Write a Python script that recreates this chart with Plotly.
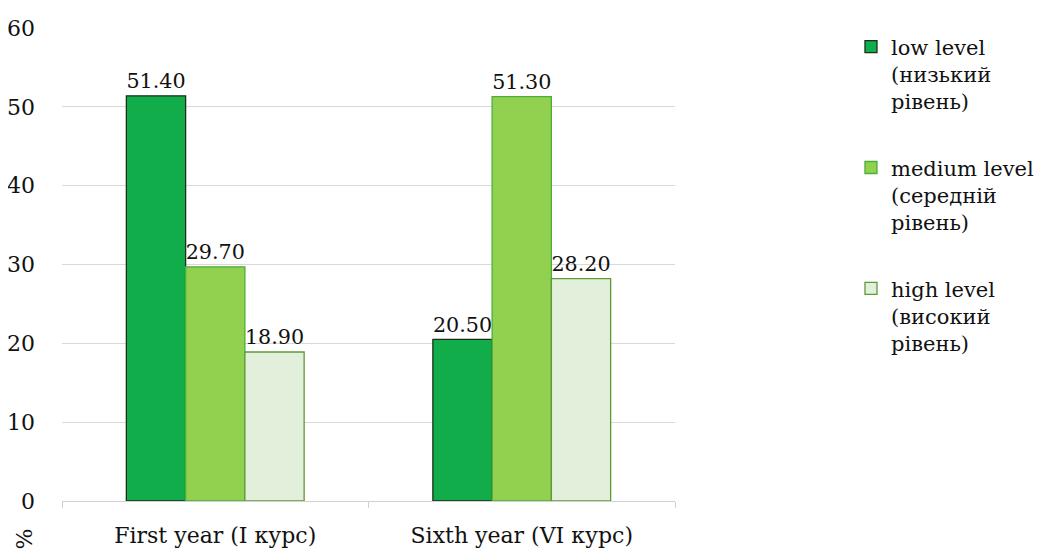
import plotly.graph_objects as go

categories = ["First year (I курс)", "Sixth year (VI курс)"]
series_names = ["low level<br>(низький<br>рівень)",
                "medium level<br>(середній<br>рівень)",
                "high level<br>(високий<br>рівень)"]
low_vals = [51.40, 20.50]
medium_vals = [29.70, 51.30]
high_vals = [18.90, 28.20]
y_ticks = [0, 10, 20, 30, 40, 50, 60]

fills = ["#11ad4b", "#92d050", "#e2efda"]
edges = ["#1c2e1c", "#4cae3a", "#5e9a3a"]

FONT = "DejaVu Serif"
FS = 22
fig = go.Figure()
for i, vals in enumerate([low_vals, medium_vals, high_vals]):
    fig.add_trace(go.Bar(
        x=categories, y=vals, name=series_names[i],
        marker=dict(color=fills[i], line=dict(color=edges[i], width=1.3)),
        text=[f"{v:.2f}" for v in vals], textposition="outside",
        textfont=dict(family=FONT, size=FS, color="#111111"),
        cliponaxis=False, legendgroup=f"g{i}",
    ))

fig.update_layout(
    width=1037, height=542,
    margin=dict(l=54, r=370, t=20, b=49, autoexpand=False),
    paper_bgcolor="white", plot_bgcolor="white",
    barmode="group", bargap=0.42, bargroupgap=0,
    font=dict(family=FONT, size=FS, color="#111111"),
    showlegend=True,
    legend=dict(xref="container", yref="container",
                x=0.8129, y=0.966, xanchor="left", yanchor="top",
                valign="top", maxheight=1,
                font=dict(family=FONT, size=21, color="#111111"),
                tracegroupgap=36, itemwidth=30, traceorder="grouped"),
    xaxis=dict(showline=True, linecolor="#d0d0d0", linewidth=1,
               ticks="outside", tickson="boundaries", ticklen=6,
               tickcolor="#d0d0d0", ticklabelstandoff=15,
               automargin=False,
               tickfont=dict(family=FONT, size=FS)),
    yaxis=dict(range=[0, 60], tickvals=y_ticks, showgrid=True,
               gridcolor="#d9d9d9", gridwidth=1, zeroline=False,
               showline=False, ticklabelstandoff=26, automargin=False,
               tickfont=dict(family=FONT, size=FS)),
    annotations=[dict(text="%", xref="paper", yref="paper",
                      x=-0.0604, y=-0.053, xanchor="center", yanchor="top",
                      showarrow=False, textangle=-90,
                      font=dict(family=FONT, size=FS, color="#111111"))],
)

fig.write_html("out.html")
